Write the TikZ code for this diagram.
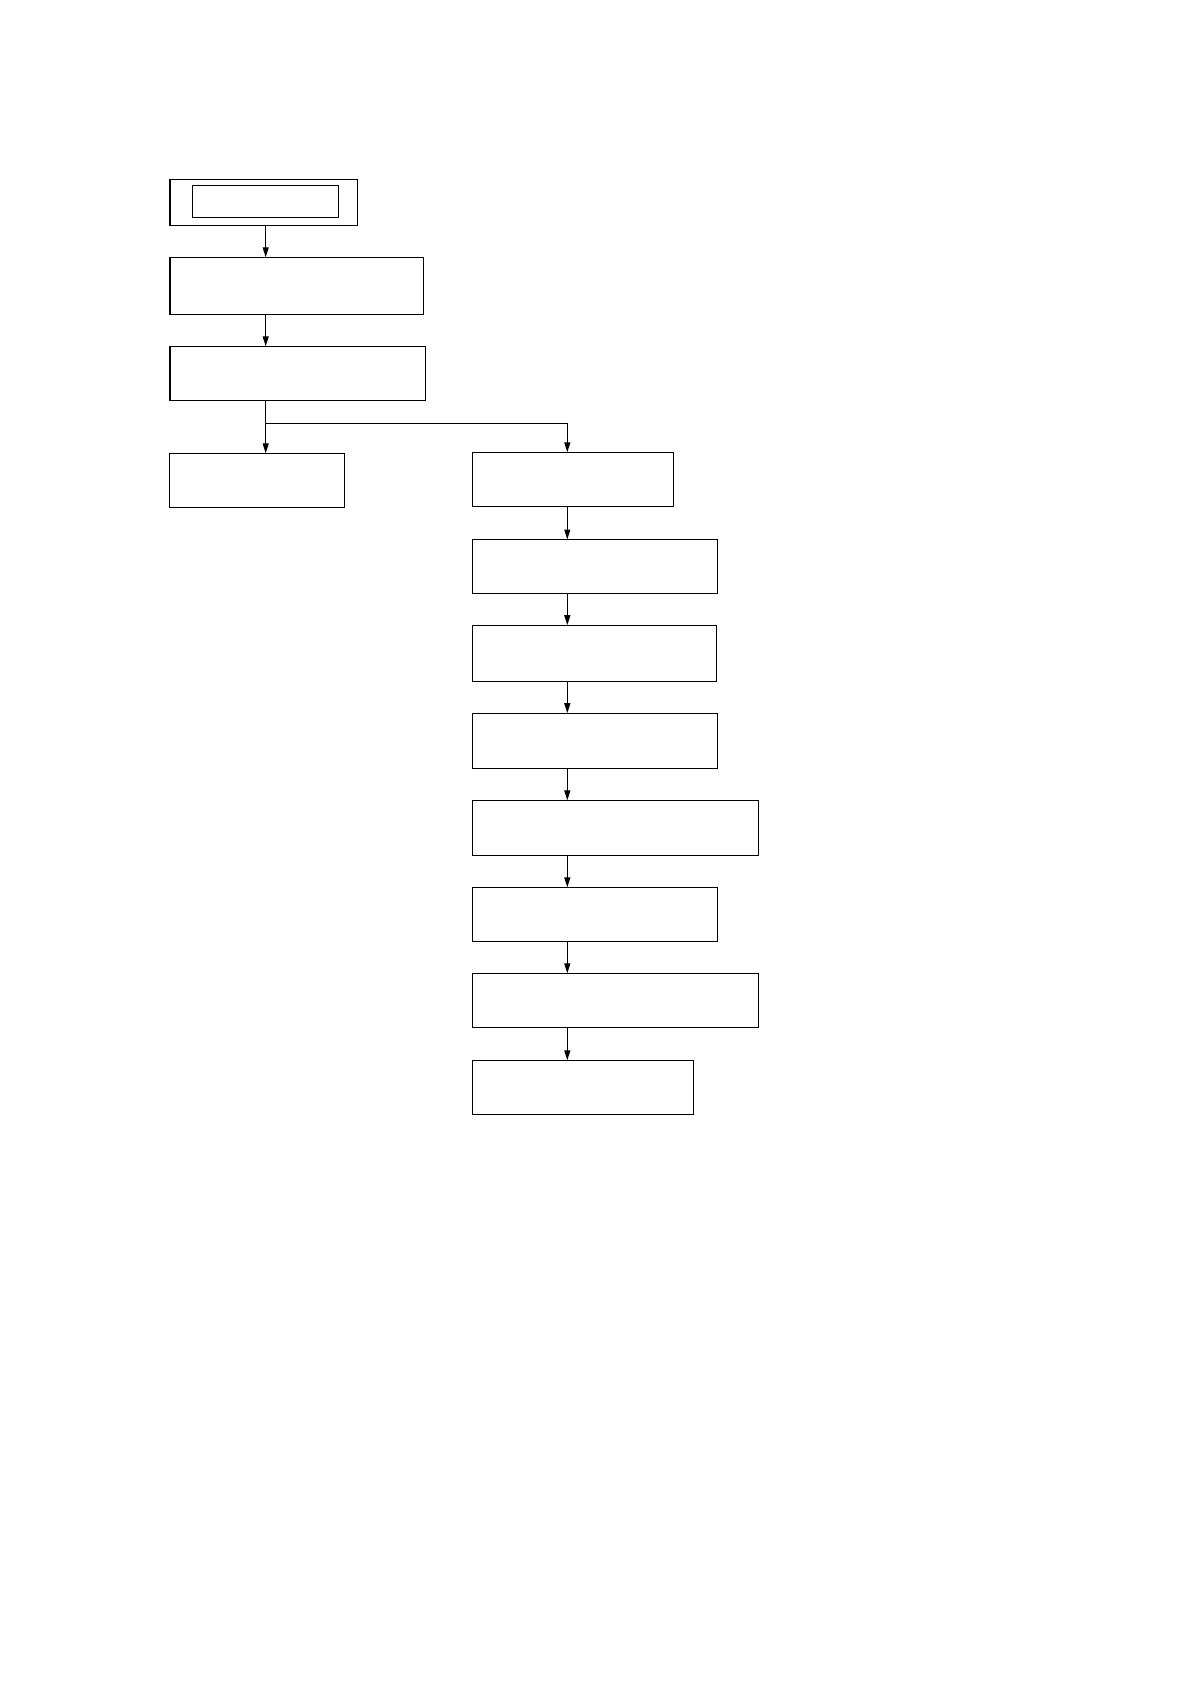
\documentclass[tikz,border=0pt]{standalone}
\usetikzlibrary{arrows.meta}
\begin{document}
\begin{tikzpicture}[x=0.5pt,y=-0.5pt,
  box/.style={draw, line width=0.6pt, inner sep=0pt, outer sep=0pt},
  arr/.style={line width=0.6pt, -{Triangle[length=5pt,width=3pt]}},
  conn/.style={line width=0.6pt}]
\useasboundingbox (0,0) rectangle (1190,1684);
\coordinate (cL) at (265.7,0);
\coordinate (cR) at (567.3,0);
\coordinate (j) at (0,423.3);
% left column
\node[box, minimum width=93.75pt, minimum height=23pt] (outer) at (263.75,202.5) {};
\node[box, minimum width=73.2pt, minimum height=16pt] (inner) at (265.5,201.3) {};
\node[box, minimum width=126.85pt, minimum height=28.5pt] (b2) at (296.85,285.8) {};
\node[box, minimum width=127.85pt, minimum height=27pt] (b3) at (297.85,373.3) {};
\node[box, minimum width=87.7pt, minimum height=27pt] (b4) at (257,480.3) {};
% right column
\node[box, minimum width=100.7pt, minimum height=27pt] (r1) at (573,479.3) {};
\node[box, minimum width=122.7pt, minimum height=26.8pt] (r2) at (595,566.3) {};
\node[box, minimum width=122.2pt, minimum height=27.95pt] (r3) at (594.5,653.15) {};
\node[box, minimum width=122.7pt, minimum height=27.55pt] (r4) at (595,740.75) {};
\node[box, minimum width=143.2pt, minimum height=27.35pt] (r5) at (615.5,827.75) {};
\node[box, minimum width=122.7pt, minimum height=26.95pt] (r6) at (595,914.25) {};
\node[box, minimum width=143.2pt, minimum height=27pt] (r7) at (615.5,1000.3) {};
\node[box, minimum width=110.5pt, minimum height=27pt] (r8) at (582.8,1087.3) {};
% connectors
\draw[arr] (outer.south -| cL) -- (b2.north -| cL);
\draw[arr] (b2.south -| cL) -- (b3.north -| cL);
\draw[arr] (b3.south -| cL) -- (b4.north -| cL);
\draw[arr] (cL |- j) -- (cR |- j) -- (r1.north -| cR);
\draw[arr] (r1.south -| cR) -- (r2.north -| cR);
\draw[arr] (r2.south -| cR) -- (r3.north -| cR);
\draw[arr] (r3.south -| cR) -- (r4.north -| cR);
\draw[arr] (r4.south -| cR) -- (r5.north -| cR);
\draw[arr] (r5.south -| cR) -- (r6.north -| cR);
\draw[arr] (r6.south -| cR) -- (r7.north -| cR);
\draw[arr] (r7.south -| cR) -- (r8.north -| cR);
\end{tikzpicture}
\end{document}
